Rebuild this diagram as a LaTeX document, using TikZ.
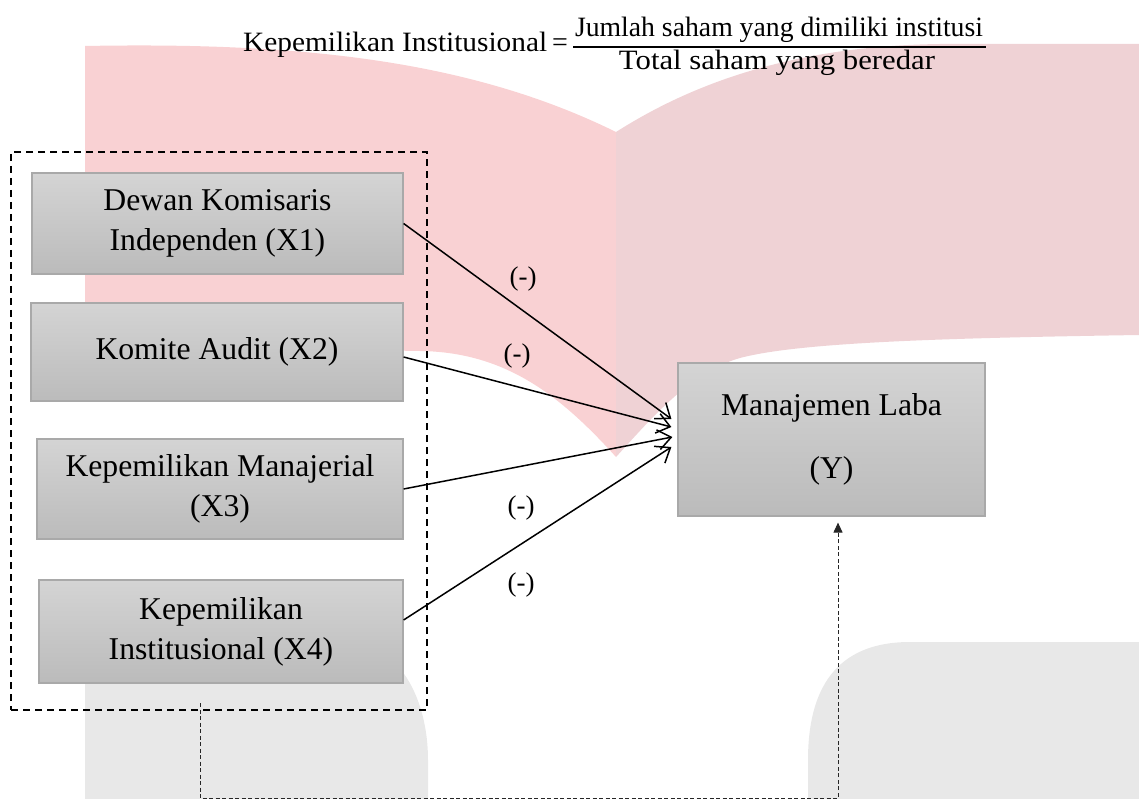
\documentclass[tikz,border=0pt]{standalone}
\usepackage{fontspec}
\usepackage{graphicx}
\setmainfont{Liberation Serif}
\usetikzlibrary{arrows.meta,calc}
\definecolor{pinkL}{HTML}{F9D1D3}
\definecolor{pinkR}{HTML}{EFD2D5}
\definecolor{wmgray}{HTML}{E8E8E8}
\definecolor{boxtop}{HTML}{D4D4D4}
\definecolor{boxbot}{HTML}{BBBBBB}
\definecolor{boxline}{HTML}{A9A9A9}
\begin{document}
\begin{tikzpicture}[x=1pt,y=-1pt,
  var/.style={draw=boxline, line width=1.2pt, top color=boxtop, bottom color=boxbot,
    align=center, font=\fontsize{31.7}{40}\selectfont, inner sep=0pt},
  sign/.style={font=\fontsize{27}{30}\selectfont, inner sep=0pt},
  conn/.style={line width=1.5pt, -{Straight Barb[length=13pt,width=20pt,line width=1.5pt]}},
  frm/.style={font=\fontsize{28}{30}\selectfont, inner sep=0pt},
  grp/.style={draw, line width=2pt, dash pattern=on 7pt off 5pt},
  fine/.style={draw=black!85, line width=1pt, dash pattern=on 4pt off 2.5pt}]
\useasboundingbox (0,0) rectangle (1139,799);
% watermark
\fill[pinkL] (85,46) .. controls (300,42) and (470,60) .. (616,132) -- (616,457)
  .. controls (560,395) and (505,352) .. (420,351)
  .. controls (300,349) and (150,345) .. (85,345) -- cycle;
\fill[pinkR] (616,132) .. controls (690,85) and (790,46) .. (940,44) -- (1139,44) -- (1139,335)
  .. controls (950,338) and (800,342) .. (740,358)
  .. controls (690,372) and (650,420) .. (616,457) -- cycle;
\fill[wmgray] (85,640) -- (340,640) .. controls (400,640) and (428,700) .. (428,760) -- (428,799) -- (85,799) -- cycle;
\fill[wmgray] (808,799) -- (808,760) .. controls (808,690) and (835,642) .. (910,642) -- (1139,642) -- (1139,799) -- cycle;
% formula
\node[frm, anchor=base west] (lhs) at (243,52) {\resizebox{304pt}{\height}{Kepemilikan Institusional}};
\node[frm, anchor=base] (eq) at (560,52) {=};
\node[frm, anchor=base] (num) at (779,37) {\resizebox{408pt}{\height}{Jumlah saham yang dimiliki institusi}};
\node[frm, anchor=base] (den) at (777,70) {\resizebox{316pt}{\height}{Total saham yang beredar}};
\draw[line width=1.3pt] (573,47) -- (986,47);
% group box
\node[grp, minimum width=416pt, minimum height=558pt, inner sep=0pt] (G) at (219,431) {};
% variables
\node[var, minimum width=371pt, minimum height=101pt] (X1) at (217.5,223.5) {Dewan Komisaris\\Independen (X1)};
\node[var, minimum width=372pt, minimum height=98pt] (X2) at (217,352) {Komite Audit (X2)};
\node[var, minimum width=366pt, minimum height=100pt] (X3) at (220,489) {Kepemilikan Manajerial\\(X3)};
\node[var, minimum width=364pt, minimum height=103pt] (X4) at (221,631.5) {Kepemilikan\\Institusional (X4)};
\node[var, minimum width=307pt, minimum height=153pt, font=\fontsize{31.7}{63}\selectfont] (Y) at (831.5,439.5) {Manajemen Laba\\(Y)};
% arrows
\draw[conn] (X1.east) -- ([xshift=-6pt,yshift=20.5pt]Y.west);
\draw[conn] ([yshift=-5pt]X2.east) -- ([xshift=-6pt,yshift=12.5pt]Y.west);
\draw[conn] (X3.east) -- ([xshift=-5pt,yshift=2.5pt]Y.west);
\draw[conn] ([yshift=11.5pt]X4.east) -- ([xshift=-6pt,yshift=-7.5pt]Y.west);
% labels
\node[sign] (m1) at (523,279) {(-)};
\node[sign] (m2) at (517,356) {(-)};
\node[sign] (m3) at (521,508) {(-)};
\node[sign] (m4) at (521,585) {(-)};
% moderating dotted connector
\coordinate (s) at ([xshift=-19pt,yshift=8pt]G.south);
\draw[fine, -{Triangle[length=10pt,width=9pt]}] (s) -- ++(0,95) -| ([xshift=6.5pt,yshift=-6pt]Y.south);
\end{tikzpicture}
\end{document}
